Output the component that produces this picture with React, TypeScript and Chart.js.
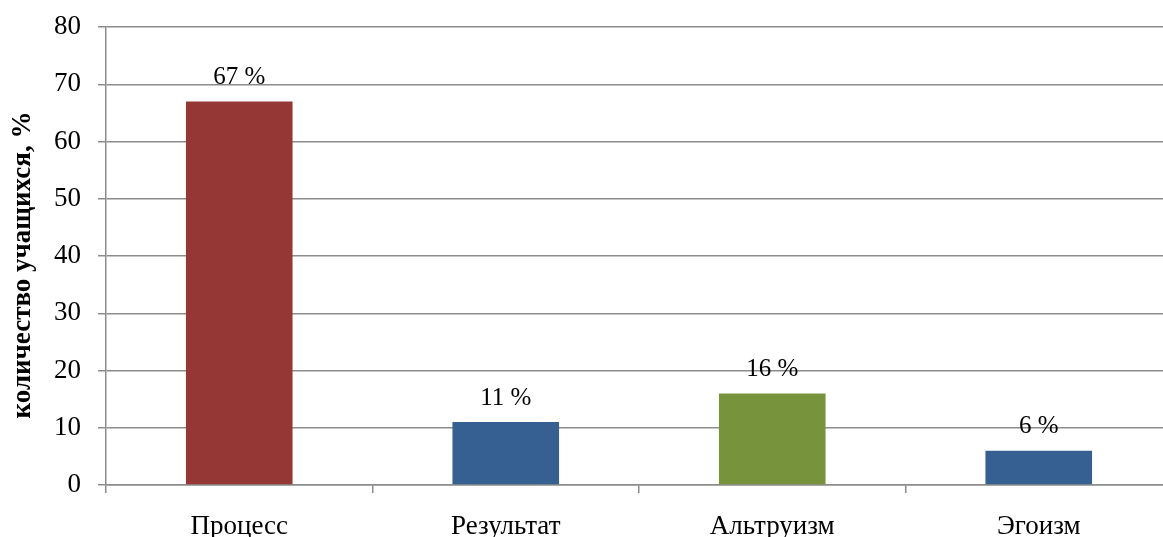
import React, { useEffect, useRef } from "react";
import { Chart, registerables } from "chart.js";

Chart.register(...registerables);

const categories = ["Процесс", "Результат", "Альтруизм", "Эгоизм"];
const values = [67, 11, 16, 6];
const barColors = ["#953735", "#376092", "#77933C", "#376092"];
const valueLabels = ["67 %", "11 %", "16 %", "6 %"];
const yTitle = "количество учащихся, %";

const FONT = "'Liberation Serif', 'Times New Roman', serif";

export default function App() {
  const ref = useRef<HTMLCanvasElement | null>(null);
  useEffect(() => {
    const canvas = ref.current;
    if (!canvas) return;
    const labelPlugin = {
      id: "valueLabels",
      afterDatasetsDraw(chart: any) {
        const ctx = chart.ctx;
        const meta = chart.getDatasetMeta(0);
        ctx.save();
        ctx.font = `25px ${FONT}`;
        ctx.fillStyle = "#000";
        ctx.textAlign = "center";
        ctx.textBaseline = "middle";
        meta.data.forEach((bar: any, i: number) => {
          ctx.fillText(valueLabels[i], bar.x, bar.y - 24);
        });
        // y axis title
        const ca = chart.chartArea;
        ctx.translate(23, (ca.top + ca.bottom) / 2 + 9);
        ctx.rotate(-Math.PI / 2);
        ctx.font = `bold 27px ${FONT}`;
        ctx.fillText(yTitle, 0, 0);
        ctx.restore();
      },
    };
    const chart = new Chart(canvas, {
      type: "bar",
      data: {
        labels: categories,
        datasets: [
          {
            data: values,
            backgroundColor: barColors,
            borderWidth: 0,
            barPercentage: 0.4,
            categoryPercentage: 1,
          },
        ],
      },
      options: {
        animation: false,
        responsive: false,
        maintainAspectRatio: false,
        devicePixelRatio: 1,
        layout: { padding: { top: 27, right: 0, left: 0, bottom: 0 } },
        plugins: {
          legend: { display: false },
          tooltip: { enabled: false },
        },
        scales: {
          x: {
            afterFit: (scale: any) => {
              scale.height = 52;
              scale.paddingLeft = 0;
              scale.paddingRight = 0;
            },
            grid: {
              display: true,
              drawOnChartArea: false,
              drawTicks: true,
              tickLength: 8,
              offset: true,
              color: "#8c8c8c",
              lineWidth: 1.5,
            },
            border: { display: true, color: "#8c8c8c", width: 1.5 },
            ticks: {
              color: "#000",
              font: { family: FONT, size: 27 },
              padding: 18,
            },
          },
          y: {
            min: 0,
            max: 80,
            afterFit: (scale: any) => {
              scale.width = 106;
              scale.paddingTop = 0;
              scale.paddingBottom = 0;
            },
            ticks: {
              stepSize: 10,
              color: "#000",
              font: { family: FONT, size: 27 },
              padding: 17,
            },
            grid: {
              color: "#8c8c8c",
              lineWidth: 1.5,
              tickLength: 8,
            },
            border: { display: true, color: "#8c8c8c", width: 1.5 },
          },
        },
      },
      plugins: [labelPlugin],
    });
    return () => chart.destroy();
  }, []);
  return (
    <div
      style={{
        position: "absolute",
        left: 0,
        top: 0,
        width: 1163,
        height: 537,
        overflow: "hidden",
        background: "#fff",
      }}
    >
      <canvas ref={ref} width={1172} height={537} style={{ display: "block" }} />
    </div>
  );
}
